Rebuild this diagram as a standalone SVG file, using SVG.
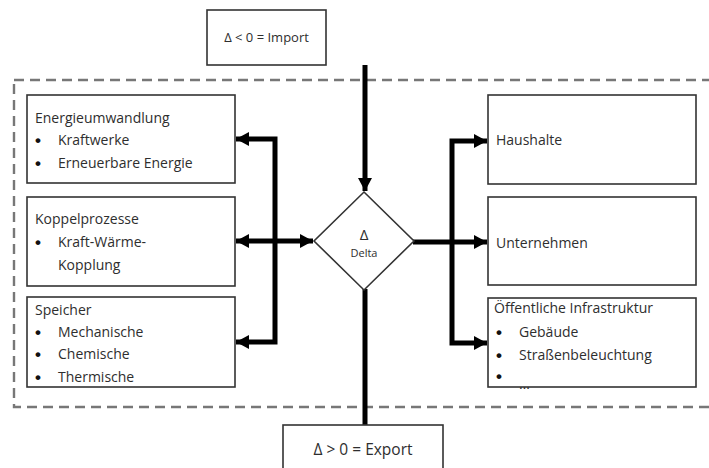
<svg xmlns="http://www.w3.org/2000/svg" width="709" height="468" viewBox="0 0 709 468">
<defs>
<style>
.box{fill:#fff;stroke:#333;stroke-width:1.6}
.t{font-family:"Open Sans","Liberation Sans",sans-serif;font-size:14px;fill:#2e2e2e}
.b{font-family:"Liberation Sans",sans-serif;font-size:17px;font-weight:bold;fill:#111}
.c{stroke:#000;stroke-width:5;fill:none;stroke-linejoin:miter}
.dash{fill:none;stroke:#777;stroke-width:2.4;stroke-dasharray:10 6}
</style>
<marker id="ah" markerUnits="userSpaceOnUse" markerWidth="16" markerHeight="16" refX="13" refY="7" orient="auto-start-reverse">
<path d="M0,0 L13,7 L0,14 z" fill="#000"/>
</marker>
</defs>
<rect x="0" y="0" width="709" height="468" fill="#fff"/>
<rect class="dash" x="14" y="80" width="720" height="327"/>
<g id="connectors">
<path class="c" d="M365 65 V191" marker-end="url(#ah)"/>
<path class="c" d="M365 289 V425"/>
<path class="c" d="M236 139 H275 V342 H236" marker-start="url(#ah)" marker-end="url(#ah)"/>
<path class="c" d="M236 241 H313" marker-start="url(#ah)" marker-end="url(#ah)"/>
<path class="c" d="M413 242 H487" marker-end="url(#ah)"/>
<path class="c" d="M487 141 H452 V343 H487" marker-start="url(#ah)" marker-end="url(#ah)"/>
</g>
<g id="import">
<rect class="box" x="207" y="10" width="119" height="55"/>
<text class="t" x="266.5" y="42" text-anchor="middle" style="font-size:13px">Δ &lt; 0 = Import</text>
</g>
<g id="export">
<rect class="box" x="283" y="425" width="160" height="60"/>
<text class="t" x="363" y="455" text-anchor="middle" style="font-size:15.5px">Δ &gt; 0 = Export</text>
</g>
<g id="delta">
<polygon points="364,192 414,241 364,290 314,241" fill="#fff" stroke="#333" stroke-width="1.6"/>
<text class="t" x="364" y="240" text-anchor="middle" style="font-size:15px">Δ</text>
<text class="t" x="364" y="257" text-anchor="middle" style="font-size:11px">Delta</text>
</g>
<g id="energieumwandlung">
<rect class="box" x="27" y="95" width="208" height="88"/>
<text class="t" x="35" y="123">Energieumwandlung</text>
<text class="b" x="35" y="146">•</text><text class="t" x="58" y="145">Kraftwerke</text>
<text class="b" x="35" y="169">•</text><text class="t" x="58" y="168">Erneuerbare Energie</text>
</g>
<g id="koppelprozesse">
<rect class="box" x="27" y="197" width="208" height="89"/>
<text class="t" x="35" y="224">Koppelprozesse</text>
<text class="b" x="35" y="248">•</text><text class="t" x="58" y="247">Kraft-Wärme-</text>
<text class="t" x="58" y="270">Kopplung</text>
</g>
<g id="speicher">
<rect class="box" x="27" y="297" width="208" height="90"/>
<text class="t" x="35" y="315">Speicher</text>
<text class="b" x="35" y="338">•</text><text class="t" x="58" y="337">Mechanische</text>
<text class="b" x="35" y="360">•</text><text class="t" x="58" y="359">Chemische</text>
<text class="b" x="35" y="383">•</text><text class="t" x="58" y="382">Thermische</text>
</g>
<g id="haushalte">
<rect class="box" x="488" y="95" width="208" height="89"/>
<text class="t" x="496" y="145">Haushalte</text>
</g>
<g id="unternehmen">
<rect class="box" x="488" y="197" width="208" height="88"/>
<text class="t" x="496" y="248">Unternehmen</text>
</g>
<g id="infrastruktur">
<rect class="box" x="488" y="298" width="208" height="89"/>
<text class="t" x="494" y="313">Öffentliche Infrastruktur</text>
<text class="b" x="496" y="338">•</text><text class="t" x="519" y="337">Gebäude</text>
<text class="b" x="496" y="361">•</text><text class="t" x="519" y="360">Straßenbeleuchtung</text>
<text class="b" x="496" y="382">•</text><text class="t" x="519" y="389">…</text>
</g>
</svg>
